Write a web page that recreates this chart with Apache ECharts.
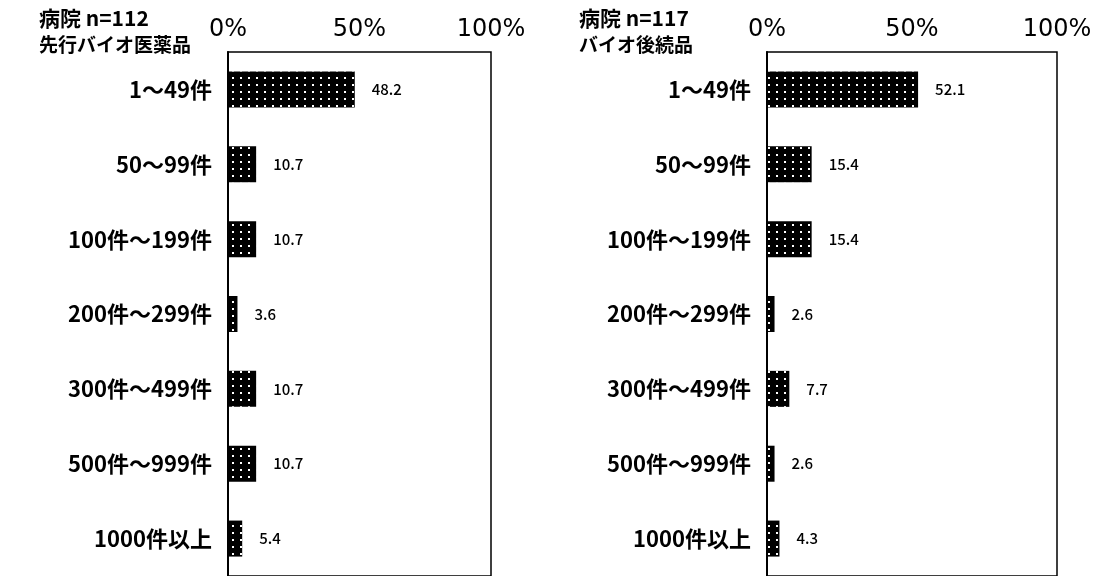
<!DOCTYPE html>
<html>
<head>
<meta charset="utf-8">
<script src="https://cdn.jsdelivr.net/npm/echarts@6/dist/echarts.min.js"></script>
<style>
html, body { margin: 0; padding: 0; background: #fff; }
#chart { width: 1102px; height: 576px; }
</style>
</head>
<body>
<div id="chart"></div>
<script>
var categories = ['1～49件', '50～99件', '100件～199件', '200件～299件', '300件～499件', '500件～999件', '1000件以上'];
var valuesOriginator = [48.2, 10.7, 10.7, 3.6, 10.7, 10.7, 5.4];
var valuesBiosimilar = [52.1, 15.4, 15.4, 2.6, 7.7, 2.6, 4.3];
var titleLeft = ['病院 n=112', '先行バイオ医薬品'];
var titleRight = ['病院 n=117', 'バイオ後続品'];

var myChart = echarts.init(document.getElementById('chart'));
var font = '"Noto Sans CJK JP", "Noto Sans", sans-serif';
var numFont = '"DejaVu Sans", "Noto Sans CJK JP", sans-serif';

// white dot pattern on the black bars
var dots = {
    symbol: 'rect',
    symbolSize: 1,
    color: '#fff',
    backgroundColor: null,
    dashArrayX: [[1.3, 5.7]],
    dashArrayY: [1.3, 4.7],
    rotation: 0
};

function xAxis(idx) {
    return {
        gridIndex: idx,
        type: 'value',
        position: 'top',
        min: 0,
        max: 100,
        interval: 50,
        axisLine: { show: false },
        axisTick: { show: false },
        splitLine: { show: false },
        axisLabel: {
            formatter: '{value}%',
            color: '#000',
            fontFamily: numFont,
            fontSize: 24,
            margin: 10
        }
    };
}

function yAxis(idx) {
    return {
        gridIndex: idx,
        type: 'category',
        inverse: true,
        data: categories,
        axisLine: { lineStyle: { color: '#000', width: 2 } },
        axisTick: { show: false },
        axisLabel: {
            color: '#000',
            fontFamily: font,
            fontWeight: 'bold',
            fontSize: 22,
            margin: 16
        }
    };
}

function series(idx, data) {
    return {
        type: 'bar',
        xAxisIndex: idx,
        yAxisIndex: idx,
        data: data,
        barWidth: 36,
        itemStyle: { color: '#000', decal: dots },
        label: {
            show: true,
            position: 'right',
            distance: 17,
            color: '#000',
            fontFamily: font,
            fontWeight: 500,
            fontSize: 15,
            formatter: function (p) { return p.value.toFixed(1); }
        }
    };
}

var titleStyle1 = { fontFamily: font, fontSize: 21, fontWeight: 'bold', color: '#000' };
var titleStyle2 = { fontFamily: font, fontSize: 19, fontWeight: 'bold', color: '#000' };

var option = {
    backgroundColor: '#fff',
    animation: false,
    title: [
        { text: titleLeft[0], left: 34, top: 3, textStyle: titleStyle1 },
        { text: titleLeft[1], left: 34, top: 30, textStyle: titleStyle2 },
        { text: titleRight[0], left: 574, top: 3, textStyle: titleStyle1 },
        { text: titleRight[1], left: 574, top: 30, textStyle: titleStyle2 }
    ],
    grid: [
        { left: 228, width: 263, top: 52, height: 525, show: true, borderColor: '#000', borderWidth: 1.5, containLabel: false },
        { left: 767, width: 290, top: 52, height: 525, show: true, borderColor: '#000', borderWidth: 1.5, containLabel: false }
    ],
    xAxis: [xAxis(0), xAxis(1)],
    yAxis: [yAxis(0), yAxis(1)],
    series: [series(0, valuesOriginator), series(1, valuesBiosimilar)]
};
myChart.setOption(option);
</script>
</body>
</html>
